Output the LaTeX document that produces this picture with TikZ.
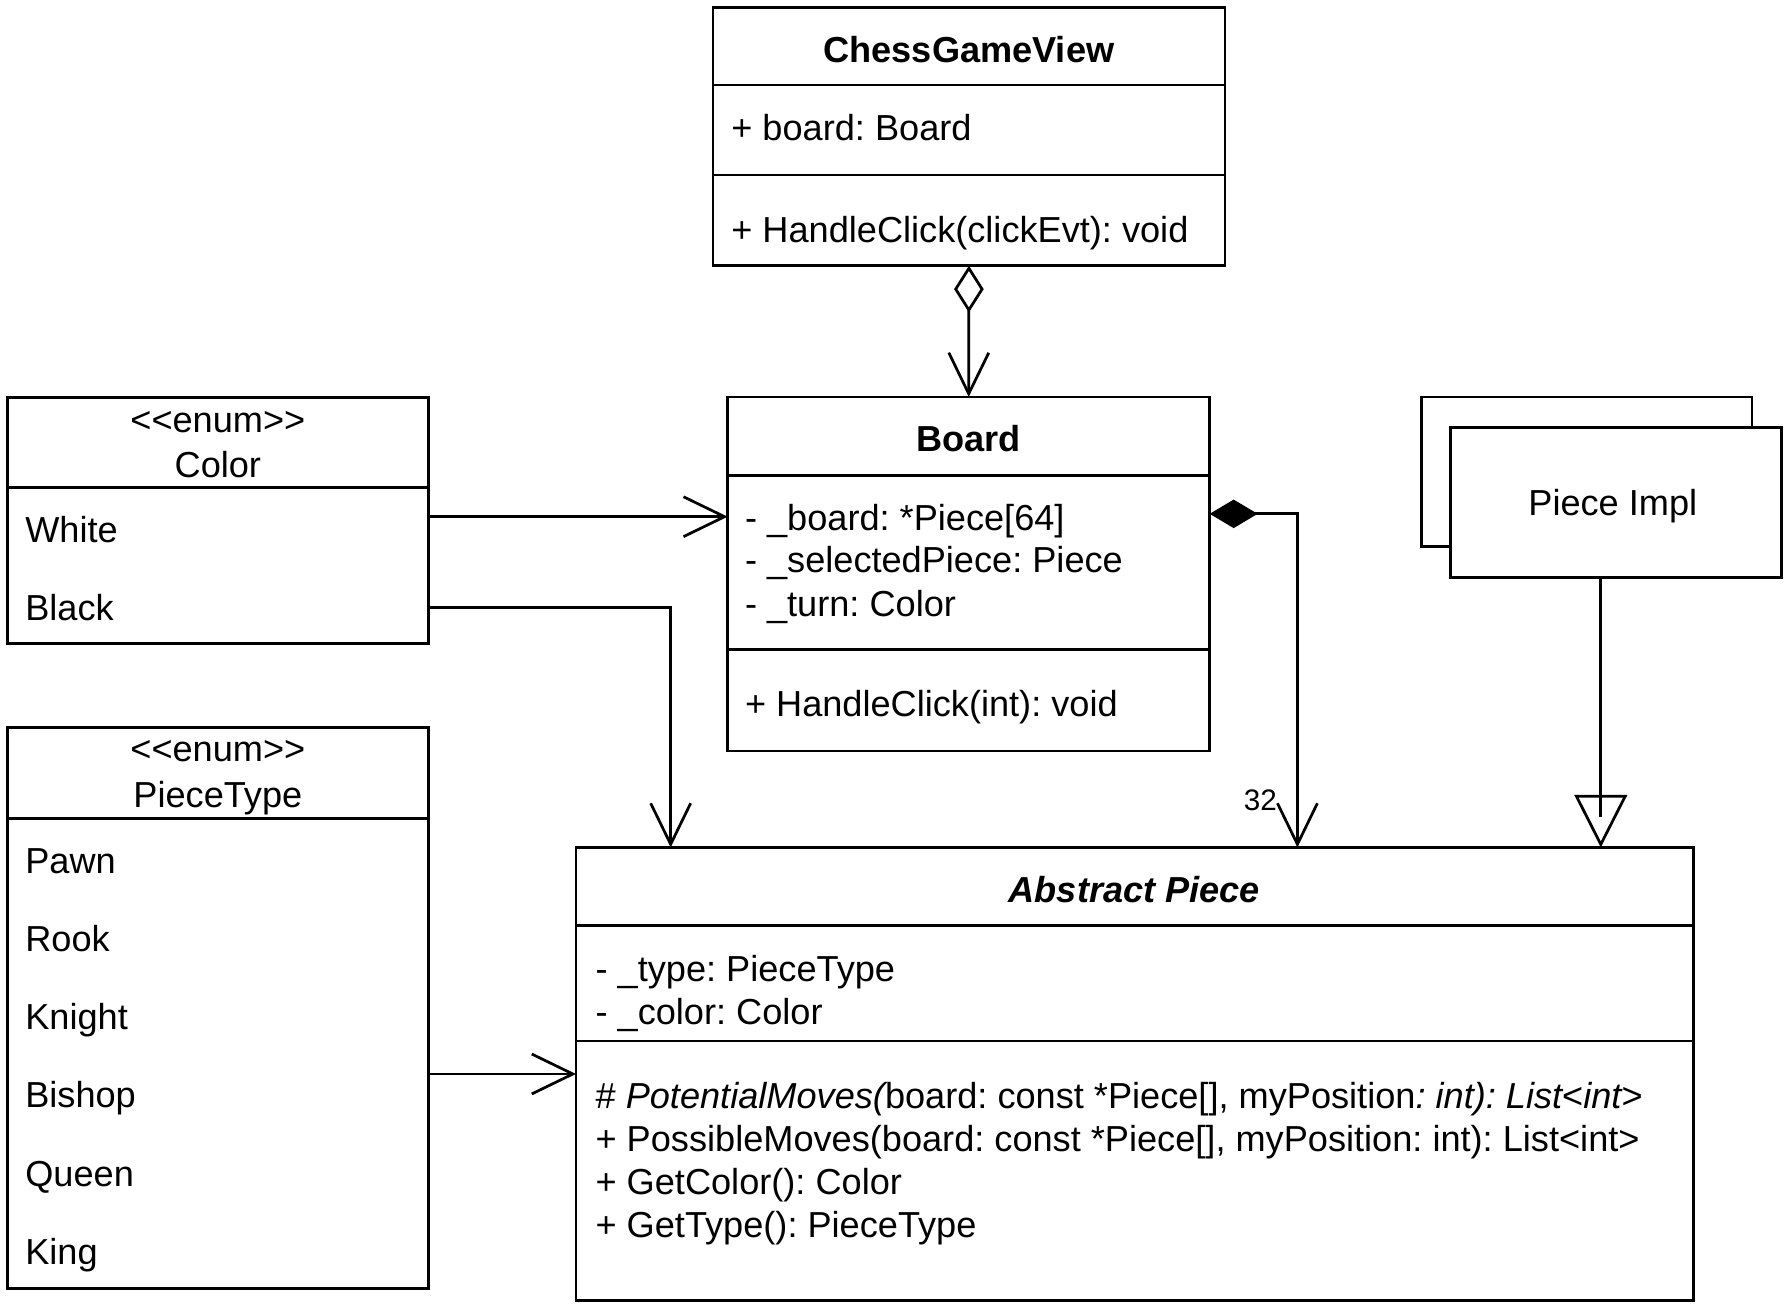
\documentclass[tikz,border=0pt]{standalone}
\usepackage{fontspec}
\setmainfont{Liberation Sans}
\usetikzlibrary{arrows.meta}
\newcommand{\stereo}[1]{<\kern0pt<#1>\kern0pt>}
\begin{document}
\frenchspacing
\begin{tikzpicture}[x=1pt,y=-1pt,
  every node/.style={font=\fontsize{31.7pt}{38pt}\selectfont},
  box/.style={draw, line width=2.4pt, fill=white, inner sep=0pt, outer sep=0pt, anchor=north west},
  sep/.style={line width=2.4pt},
  txt/.style={anchor=west, inner sep=0pt, text height=22.7pt, text depth=0pt},
  ctxt/.style={anchor=center, inner sep=0pt, text height=22.7pt, text depth=0pt},
  conn/.style={line width=2.4pt, line join=miter},
  barb/.style={-{Straight Barb[length=36pt,width=35pt]}}
]
\useasboundingbox (0,0) rectangle (1565,1152);

% ChessGameView
\node[box, minimum width=449pt, minimum height=226.5pt] (cgv) at (625,6.5) {};
\draw[sep] (625,74.5) -- (1074,74.5);
\draw[sep] (625,153.5) -- (1074,153.5);
\node[ctxt] (cgvT) at (849.5,43.5) {\textbf{ChessGameView}};
\node[txt] (cgvA) at (641,112) {+ board: Board};
\node[txt] (cgvM) at (641,201.5) {+ HandleClick(clickEvt): void};

% Board
\node[box, minimum width=422.6pt, minimum height=310.5pt] (board) at (638,348) {};
\draw[sep] (638,417) -- (1060.6,417);
\draw[sep] (638,569.5) -- (1060.6,569.5);
\node[ctxt] (boardT) at (849.3,384.5) {\textbf{Board}};
\node[txt] (boardA1) at (653,453.5) {- \_board: *Piece[64]};
\node[txt] (boardA2) at (653,491) {- \_selectedPiece: Piece};
\node[txt] (boardA3) at (653,529) {- \_turn: Color};
\node[txt] (boardM) at (653,616.5) {+ HandleClick(int): void};

% Color enum
\node[box, minimum width=369pt, minimum height=215.7pt] (color) at (6.5,348.3) {};
\draw[sep] (6.5,427.6) -- (375.5,427.6);
\node[ctxt] (colorS) at (191,367.5) {\stereo{enum}};
\node[ctxt] (colorT) at (191,407.5) {Color};
\node[txt] (white) at (22,464.5) {White};
\node[txt] (black) at (22,532.8) {Black};

% PieceType enum
\node[box, minimum width=369pt, minimum height=491.5pt] (pt) at (6.5,638) {};
\draw[sep] (6.5,717.4) -- (375.5,717.4);
\node[ctxt] (ptS) at (191,656) {\stereo{enum}};
\node[ctxt] (ptT) at (191,696.5) {PieceType};
\node[txt] (pawn) at (22,754.5) {Pawn};
\node[txt] (rook) at (22,822.5) {Rook};
\node[txt] (knight) at (22,891) {Knight};
\node[txt] (bishop) at (22,959.5) {Bishop};
\node[txt] (queen) at (22,1028.5) {Queen};
\node[txt] (king) at (22,1097) {King};

% Abstract Piece
\node[box, minimum width=980pt, minimum height=397.5pt] (ap) at (505,743) {};
\draw[sep] (505,811.6) -- (1485,811.6);
\draw[sep] (505,912.7) -- (1485,912.7);
\node[ctxt] (apT) at (994.5,779.5) {\textbf{\itshape Abstract Piece}};
\node[txt] (apA1) at (522,849.5) {- \_type: PieceType};
\node[txt] (apA2) at (522,887) {- \_color: Color};
\node[txt] (apM1) at (522,960.5) {\# {\itshape PotentialMoves(}board: const *Piece[], myPosition{\itshape : int): List}<{\itshape int}>};
\node[txt] (apM2) at (522,998) {+ PossibleMoves(board: const *Piece[], myPosition: int): List<int>};
\node[txt] (apM3) at (522,1036) {+ GetColor(): Color};
\node[txt] (apM4) at (522,1073.5) {+ GetType(): PieceType};

% Piece Impl (stacked)
\node[box, minimum width=290pt, minimum height=131.3pt] (pimplB) at (1246,348) {};
\node[box, minimum width=290pt, minimum height=131pt] (pimpl) at (1272,375) {};
\node[ctxt] (pimplT) at (1414,441) {Piece Impl};

% Connectors
\draw[conn, {Diamond[open,length=41pt,width=26pt]}-{Straight Barb[length=36pt,width=35pt]}] (cgv.south) -- (board.north);
\draw[conn,barb] (color.east |- 0,453) -- (board.west |- 0,453);
\draw[conn,barb] (color.east |- 0,532.8) -| (ap.north -| 588,0);
\draw[conn,barb] (pt.east |- 0,941.6) -- (ap.west |- 0,941.6);
\draw[conn, {Diamond[length=42pt,width=25pt]}-{Straight Barb[length=36pt,width=35pt]}] (board.east |- 0,450.5) -| (ap.north -| 1137.5,0);
\node[inner sep=0pt, font=\fontsize{26pt}{30pt}\selectfont] (mult) at (1105,702) {32};
\draw[conn, -{Triangle[open,length=46pt,width=46pt]}] (pimpl.south -| 1403.5,0) -- (ap.north -| 1403.5,0);
\draw[conn] (ap.north -| 1403.5,0) ++(0,-47) -- ++(0,20);
\end{tikzpicture}
\end{document}
